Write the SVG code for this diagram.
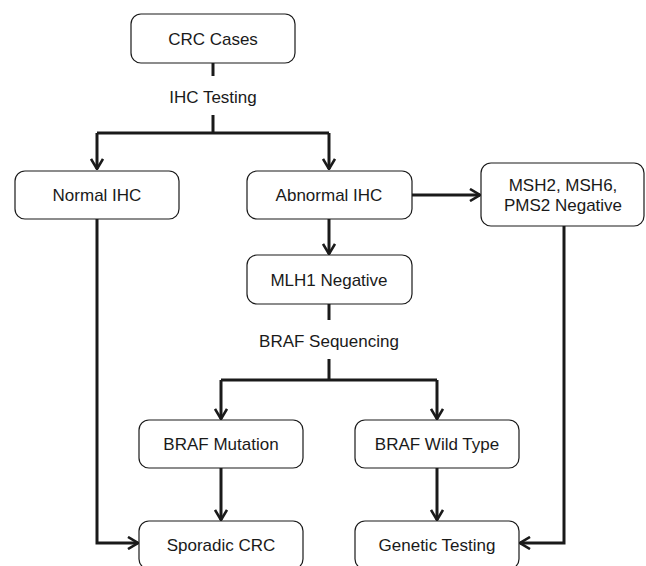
<svg xmlns="http://www.w3.org/2000/svg" width="646" height="566" viewBox="0 0 646 566">
<style>
.box{fill:#fff;stroke:#1a1a1a;stroke-width:1.2}
.t{font-family:"Liberation Sans",Arial,sans-serif;font-size:17px;fill:#1a1a1a;text-anchor:middle;dominant-baseline:central}
.c{fill:none;stroke:#1a1a1a;stroke-width:3}
</style>
<defs>
<marker id="ah" viewBox="0 0 12 14" refX="11" refY="7" markerWidth="12" markerHeight="14" markerUnits="userSpaceOnUse" orient="auto">
<path d="M1,1 L11,7 L1,13" fill="none" stroke="#1a1a1a" stroke-width="2.6"/>
</marker>
</defs>
<rect width="646" height="566" fill="#fff"/>
<g id="connectors">
<path class="c" d="M213,63 V76"/>
<path class="c" d="M213,115 V133 M97,133 H329"/>
<path class="c" d="M97,133 V169" marker-end="url(#ah)"/>
<path class="c" d="M329,133 V169" marker-end="url(#ah)"/>
<path class="c" d="M412,195 H480" marker-end="url(#ah)"/>
<path class="c" d="M329,219 V254" marker-end="url(#ah)"/>
<path class="c" d="M329,304 V320"/>
<path class="c" d="M329,359 V380 M221,380 H437"/>
<path class="c" d="M221,380 V419" marker-end="url(#ah)"/>
<path class="c" d="M437,380 V419" marker-end="url(#ah)"/>
<path class="c" d="M221,468 V520" marker-end="url(#ah)"/>
<path class="c" d="M437,468 V520" marker-end="url(#ah)"/>
<path class="c" d="M97,219 V543 H138" marker-end="url(#ah)"/>
<path class="c" d="M564,226 V543 H520" marker-end="url(#ah)"/>
</g>
<g id="label-ihc"><text class="t" x="213" y="97">IHC Testing</text></g>
<g id="label-braf"><text class="t" x="329" y="341">BRAF Sequencing</text></g>
<g id="crc-cases"><rect class="box" x="131" y="14" width="164" height="49" rx="10"/><text class="t" x="213" y="39">CRC Cases</text></g>
<g id="normal-ihc"><rect class="box" x="15" y="171" width="164" height="48" rx="10"/><text class="t" x="97" y="195">Normal IHC</text></g>
<g id="abnormal-ihc"><rect class="box" x="247" y="171" width="165" height="48" rx="10"/><text class="t" x="329" y="195">Abnormal IHC</text></g>
<g id="msh2"><rect class="box" x="481" y="163" width="163" height="63" rx="10"/><text class="t" x="563" y="185">MSH2, MSH6,</text><text class="t" x="563" y="205">PMS2 Negative</text></g>
<g id="mlh1"><rect class="box" x="247" y="255" width="165" height="49" rx="10"/><text class="t" x="329" y="280">MLH1 Negative</text></g>
<g id="braf-mutation"><rect class="box" x="139" y="420" width="164" height="48" rx="10"/><text class="t" x="221" y="444">BRAF Mutation</text></g>
<g id="braf-wild"><rect class="box" x="355" y="420" width="164" height="48" rx="10"/><text class="t" x="437" y="444">BRAF Wild Type</text></g>
<g id="sporadic-crc"><rect class="box" x="139" y="521" width="164" height="48" rx="10"/><text class="t" x="221" y="545">Sporadic CRC</text></g>
<g id="genetic-testing"><rect class="box" x="355" y="521" width="164" height="48" rx="10"/><text class="t" x="437" y="545">Genetic Testing</text></g>
</svg>
